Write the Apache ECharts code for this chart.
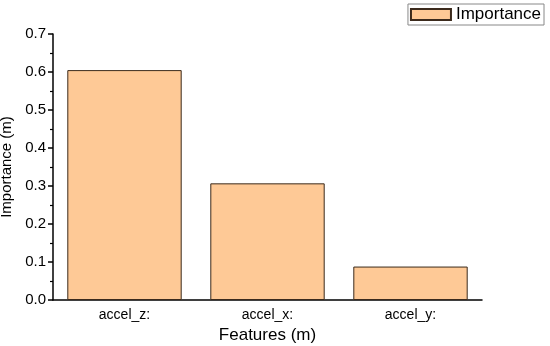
<!DOCTYPE html>
<html><head><meta charset="utf-8">
<script src="https://cdn.jsdelivr.net/npm/echarts@6/dist/echarts.min.js"></script>
<style>html,body{margin:0;padding:0;background:#fff}#c{width:550px;height:346px}</style>
</head><body><div id="c"></div>
<script>
const categories = ['accel_z:', 'accel_x:', 'accel_y:'];
const importance = [0.605, 0.307, 0.088];
const seriesName = 'Importance';

const chart = echarts.init(document.getElementById('c'), null, {renderer: 'canvas'});
const font = 'Liberation Sans, Arial, sans-serif';
chart.setOption({
  animation: false,
  backgroundColor: '#fff',
  grid: {left: 53, top: 34, right: 68, bottom: 46, containLabel: false, outerBoundsMode: 'none'},
  legend: {
    right: 6, top: 4, itemWidth: 40, itemHeight: 11, itemGap: 5, icon: 'rect',
    padding: [2, 3, 2, 2], borderColor: '#888', borderWidth: 1,
    textStyle: {fontFamily: font, fontSize: 17, color: '#000'},
    data: [seriesName]
  },
  xAxis: [{
    type: 'category', data: categories,
    name: 'Features (m)', nameLocation: 'middle', nameGap: 22,
    nameTextStyle: {fontFamily: font, fontSize: 17, color: '#000'},
    axisLine: {lineStyle: {color: '#000', width: 1.5}},
    axisTick: {alignWithLabel: true, length: 5, lineStyle: {color: '#000', width: 1.5}},
    axisLabel: {fontFamily: font, fontSize: 14, color: '#000', margin: 8}
  }, {
    type: 'category', data: categories, position: 'bottom', offset: 0,
    axisLine: {show: false},
    axisTick: {length: 3, lineStyle: {color: '#000', width: 1.2}},
    axisLabel: {show: false}
  }],
  yAxis: {
    type: 'value', min: 0, max: 0.7, interval: 0.1,
    name: 'Importance (m)', nameLocation: 'middle', nameGap: 34,
    nameTextStyle: {fontFamily: font, fontSize: 15, color: '#000'},
    axisLine: {show: true, lineStyle: {color: '#000', width: 1.5}},
    axisTick: {show: true, length: 5, lineStyle: {color: '#000', width: 1.5}},
    minorTick: {show: true, splitNumber: 2, length: 3, lineStyle: {color: '#000', width: 1.2}},
    splitLine: {show: false},
    axisLabel: {fontFamily: font, fontSize: 15, color: '#000', margin: 7,
      formatter: v => v.toFixed(1)}
  },
  series: [{
    name: seriesName, type: 'bar', data: importance, barWidth: '80%',
    itemStyle: {color: '#FEC996', borderColor: '#3b2a1c', borderWidth: 1}
  }]
});
</script></body></html>
